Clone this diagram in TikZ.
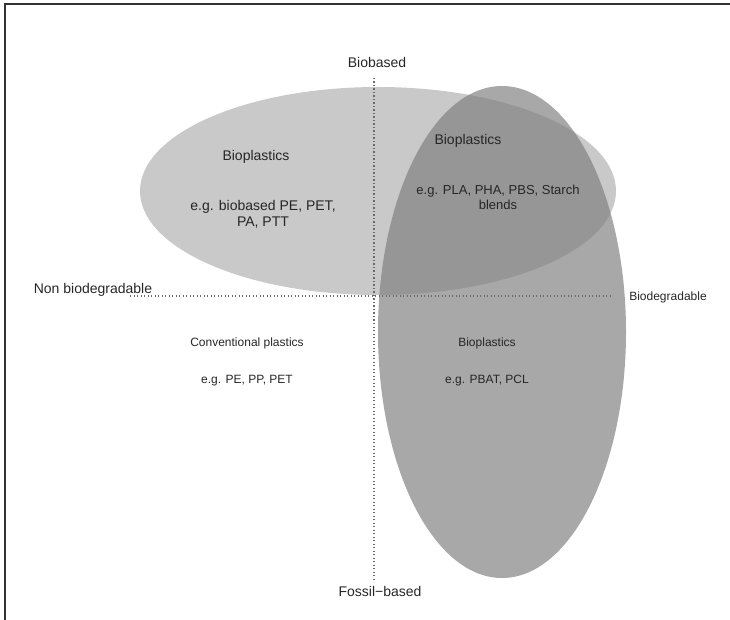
\documentclass[tikz,border=0pt]{standalone}
\usepackage{fontspec}
\setmainfont{Liberation Sans}
\begin{document}
\begin{tikzpicture}[x=1pt,y=-1pt,
  axisline/.style={draw=black!58, line width=1.3pt, dash pattern=on 1.3pt off 2.2pt},
  lbl/.style={inner sep=1pt, text=black!85},
  big/.style={lbl, font=\fontsize{14}{16}\selectfont},
  mid/.style={lbl, font=\fontsize{13}{15}\selectfont},
  small/.style={lbl, font=\fontsize{12}{14}\selectfont}]
\useasboundingbox (0,0) rectangle (730,620);
% frame
\draw[line width=1.2pt, black!80] (5,620) -- (5,4) -- (730,4);
% ellipses
\fill[black!21] (378,191) ellipse [x radius=238, y radius=104];
\fill[black!51, fill opacity=0.67] (502,332) ellipse [x radius=124, y radius=246];
% axes
\coordinate (hl) at (130,296);
\coordinate (hr) at (612,296);
\coordinate (vt) at (374,78);
\coordinate (vb) at (374,582);
\draw[axisline] (hl) -- (hr);
\draw[axisline] (vt) -- (vb);
% labels
\node[big] (biobased) at (377,62) {Biobased};
\node[big] (nonbio) at (93,290) {Non biodegradable};
\node[small] (bio) at (668,297) {Biodegradable};
\node[big] (fossil) at (380,591) {Fossil−based};
\node[big] (bp1) at (256,157) {Bioplastics};
\node[big, align=center] (ex1) at (263,214) {e.g. biobased PE, PET,\\PA, PTT};
\node[big] (bp2) at (468,141) {Bioplastics};
\node[mid, align=center] (ex2) at (498,197) {e.g. PLA, PHA, PBS, Starch\\blends};
\node[small] (conv) at (247,343) {Conventional plastics};
\node[small] (ex3) at (247,381) {e.g. PE, PP, PET};
\node[small] (bp3) at (487,343) {Bioplastics};
\node[small] (ex4) at (487,381) {e.g. PBAT, PCL};
\end{tikzpicture}
\end{document}
